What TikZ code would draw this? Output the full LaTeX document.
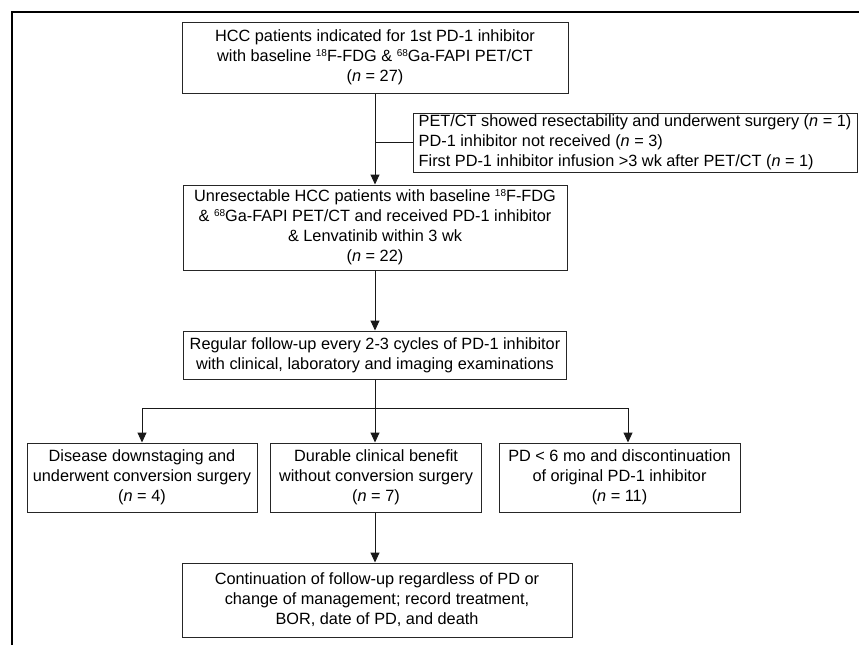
\documentclass[tikz,border=0pt]{standalone}
\usepackage{fontspec}
\setmainfont{Liberation Sans}
\usepackage{tikz}
\usetikzlibrary{arrows.meta}
\usetikzlibrary{positioning}

\newcommand{\ncount}[1]{(\textit{n} = #1)}
\newcommand{\iso}[1]{\raisebox{0.55ex}{\fontsize{10}{10}\selectfont #1}}

\begin{document}
\begin{tikzpicture}[
    x=1pt, y=-1pt,
    box/.style={
        draw=black!85, line width=1pt,
        inner sep=0pt,
        font=\fontsize{16.3}{20}\selectfont,
        align=center
    },
    flow/.style={-{Triangle[length=10pt,width=9pt]}, line width=1pt, draw=black!90}
]
\useasboundingbox (0,0) rectangle (859,645);
\draw[line width=1.6pt] (12,645) -- (12,12) -- (859,12);

\node[box, minimum width=386pt, minimum height=71pt] (start) at (375,57.5)
    {HCC patients indicated for 1st PD-1 inhibitor\\ with baseline \iso{18}F-FDG \& \iso{68}Ga-FAPI PET/CT\\ \ncount{27}};
\node[box, align=left, inner xsep=4pt, minimum width=444pt, minimum height=59pt] (excl) at (635,142.5)
    {PET/CT showed resectability and underwent surgery \ncount{1}\\ PD-1 inhibitor not received \ncount{3}\\ First PD-1 inhibitor infusion >3 wk after PET/CT \ncount{1}};
\node[box, minimum width=384pt, minimum height=85pt] (unres) at (375,227.5)
    {Unresectable HCC patients with baseline \iso{18}F-FDG\\ \& \iso{68}Ga-FAPI PET/CT and received PD-1 inhibitor\\ \& Lenvatinib within 3 wk\\ \ncount{22}};
\node[box, minimum width=383pt, minimum height=48pt] (follow) at (375,355)
    {Regular follow-up every 2-3 cycles of PD-1 inhibitor\\ with clinical, laboratory and imaging examinations};
\node[box, minimum width=230pt, minimum height=69pt] (downstage) at (142,477.5)
    {Disease downstaging and\\ underwent conversion surgery\\ \ncount{4}};
\node[box, minimum width=211pt, minimum height=69pt] (durable) at (376,477.5)
    {Durable clinical benefit\\ without conversion surgery\\ \ncount{7}};
\node[box, minimum width=241pt, minimum height=69pt] (progress) at (619.5,477.5)
    {PD < 6 mo and discontinuation\\ of original PD-1 inhibitor\\ \ncount{11}};
\node[box, minimum width=390pt, minimum height=74pt] (continue) at (377,600)
    {Continuation of follow-up regardless of PD or\\ change of management; record treatment,\\ BOR, date of PD, and death};

% main line
\coordinate (split) at (start.south |- excl.west);
\draw[flow] (start.south) -- (start.south |- unres.north);
\draw[line width=1pt, draw=black!90] (split) -- (excl.west);
\draw[flow] (unres.south) -- (unres.south |- follow.north);

% branches
\coordinate (branch) at (375,408);
\draw[line width=1pt, draw=black!90] (follow.south) -- (follow.south |- branch);
\draw[flow] (branch) -| (downstage.north);
\draw[flow] (branch) -| ([xshift=8.5pt]progress.north);
\draw[flow] (branch) -- (branch |- durable.north);
\draw[flow] (branch |- durable.south) -- (branch |- continue.north);
\end{tikzpicture}
\end{document}
